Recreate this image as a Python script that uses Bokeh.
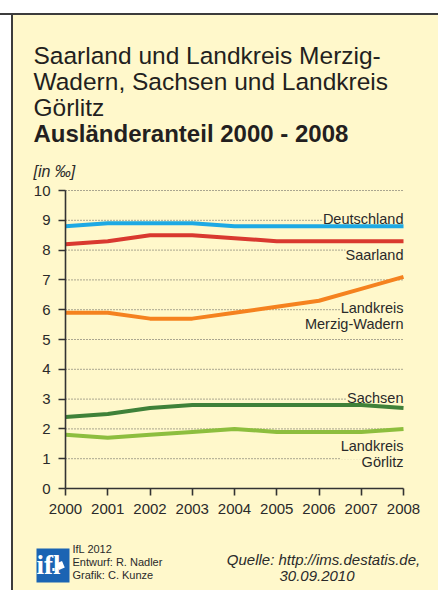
from bokeh.plotting import figure
from bokeh.models import Range1d, FixedTicker, Label
from bokeh.embed import file_html
from bokeh.resources import INLINE

# ---- data ----
years = [2000, 2001, 2002, 2003, 2004, 2005, 2006, 2007, 2008]
deutschland = [8.8, 8.9, 8.9, 8.9, 8.8, 8.8, 8.8, 8.8, 8.8]
saarland = [8.2, 8.3, 8.5, 8.5, 8.4, 8.3, 8.3, 8.3, 8.3]
merzig_wadern = [5.9, 5.9, 5.7, 5.7, 5.9, 6.1, 6.3, 6.7, 7.1]
sachsen = [2.4, 2.5, 2.7, 2.8, 2.8, 2.8, 2.8, 2.8, 2.7]
goerlitz = [1.8, 1.7, 1.8, 1.9, 2.0, 1.9, 1.9, 1.9, 2.0]
y_ticks = [0, 1, 2, 3, 4, 5, 6, 7, 8, 9, 10]
x_ticks = years

series = [
    (deutschland, "#1DA9E4", ["Deutschland"]),
    (saarland, "#D9392F", ["Saarland"]),
    (merzig_wadern, "#F5821F", ["Landkreis", "Merzig-Wadern"]),
    (sachsen, "#3F8139", ["Sachsen"]),
    (goerlitz, "#8DBE3E", ["Landkreis", "Görlitz"]),
]

title_lines = ["Saarland und Landkreis Merzig-", "Wadern, Sachsen und Landkreis", "Görlitz"]
title_bold = "Ausländeranteil 2000 - 2008"
unit_text = "[in ‰]"
credits = ["IfL 2012", "Entwurf: R. Nadler", "Grafik: C. Kunze"]
source_lines = ["Quelle: http://ims.destatis.de,", "30.09.2010"]

BG = "#FFF8CB"
TXT = "#2A2A2A"
FONT = "Liberation Sans"

# ---- layout: page pixel positions of the data area ----
W, H = 438, 590
FL, FR, FT, FB = 65, 403, 190, 488


def dx(px):
    return years[0] + (years[-1] - years[0]) * (px - FL) / (FR - FL)


def dy(py):
    return y_ticks[-1] * (FB - py) / (FB - FT)


p = figure(width=W, height=H, output_backend="svg", toolbar_location=None,
           x_range=Range1d(dx(0), dx(W)), y_range=Range1d(dy(H), dy(0)),
           min_border_left=0, min_border_right=0,
           min_border_top=0, min_border_bottom=0)
p.background_fill_alpha = 0
p.border_fill_alpha = 0
p.outline_line_color = None
p.styles = {
    "background": (
        "linear-gradient(to bottom, #ffffff 0px, #ffffff 13px, #3c3c3c 13px, #3c3c3c 15px, transparent 15px), "
        "linear-gradient(to right, #ffffff 0px, #ffffff 11px, #3c3c3c 11px, #3c3c3c 13px, " + BG + " 13px)"
    )
}

# axes drawn at the data origin
p.xaxis.fixed_location = y_ticks[0]
p.xaxis.bounds = (years[0], years[-1])
p.yaxis.fixed_location = years[0]
p.yaxis.bounds = (y_ticks[0], y_ticks[-1])
for ax in (p.xaxis[0], p.yaxis[0]):
    ax.axis_line_color = "#333333"
    ax.axis_line_width = 1.6
    ax.major_tick_line_color = "#333333"
    ax.major_tick_line_width = 1.6
    ax.major_tick_out = 7
    ax.major_tick_in = 0
    ax.minor_tick_line_color = None
    ax.major_label_text_font = FONT
    ax.major_label_text_font_size = "15px"
    ax.major_label_text_color = TXT
    ax.major_label_standoff = 8
p.xaxis.ticker = FixedTicker(ticks=x_ticks)
p.yaxis.ticker = FixedTicker(ticks=y_ticks)

p.xgrid.visible = False
p.ygrid.visible = False
gy = y_ticks[1:]
p.segment(x0=[years[0]] * len(gy), y0=gy, x1=[years[-1]] * len(gy), y1=gy,
          line_color="#555555", line_dash="1 2", line_width=1, level="image")


def label(px, py, text, **kw):
    args = dict(x=dx(px), y=dy(py), text=text, text_font=FONT,
                text_baseline="alphabetic", text_color=TXT)
    args.update(kw)
    p.add_layout(Label(**args))


# series labels (under the lines, covering the grid dots)
label_baselines = [[221], [257.3], [310, 325.5], [400], [448.3, 464]]
for (vals, col, names), bases in zip(series, label_baselines):
    for name, b in zip(names, bases):
        p.add_layout(Label(x=years[-1], y=dy(b), text=name, text_align="right",
                           text_baseline="alphabetic", text_font=FONT,
                           text_font_size="14.5px", text_color=TXT,
                           background_fill_color=BG, padding=(0, 0, 0, 5),
                           level="underlay"))

for vals, col, names in series:
    p.line(years, vals, line_color=col, line_width=4, line_join="round")

# title
for i, t in enumerate(title_lines):
    label(33, 54.5 + 26 * i, t, text_font_size="24.5px", text_color="#231F20")
label(33, 132.5, title_bold, text_font_size="24px", text_font_style="bold",
      text_color="#231F20")
label(33, 170.5, unit_text, text_font_size="16px", text_font_style="italic")

# logo
label(36, 565, "ifl", text_font="Liberation Sans Narrow",
      text_font_size="27px", text_font_style="bold", text_color="white",
      background_fill_color="#1B64B3", padding=(0, 9, 1, 3))
label(60, 565, " ", text_font_size="1px", background_fill_color="white",
      padding=3, angle=0.4, text_baseline="middle", text_align="center")
label(53, 569, " ", text_font_size="1px", background_fill_color="white",
      padding=1, text_baseline="middle", text_align="center")

# credits
for i, t in enumerate(credits):
    label(72, 548.5 + 12.8 * i, t, text_font_size="11px")

# source
src_pos = [(323, 558.5), (316.5, 575)]
for t, (sx, sy) in zip(source_lines, src_pos):
    label(sx, sy, t, text_font_size="15px", text_font_style="italic",
          text_align="center")

open("out.html", "w").write(file_html(p, INLINE))
